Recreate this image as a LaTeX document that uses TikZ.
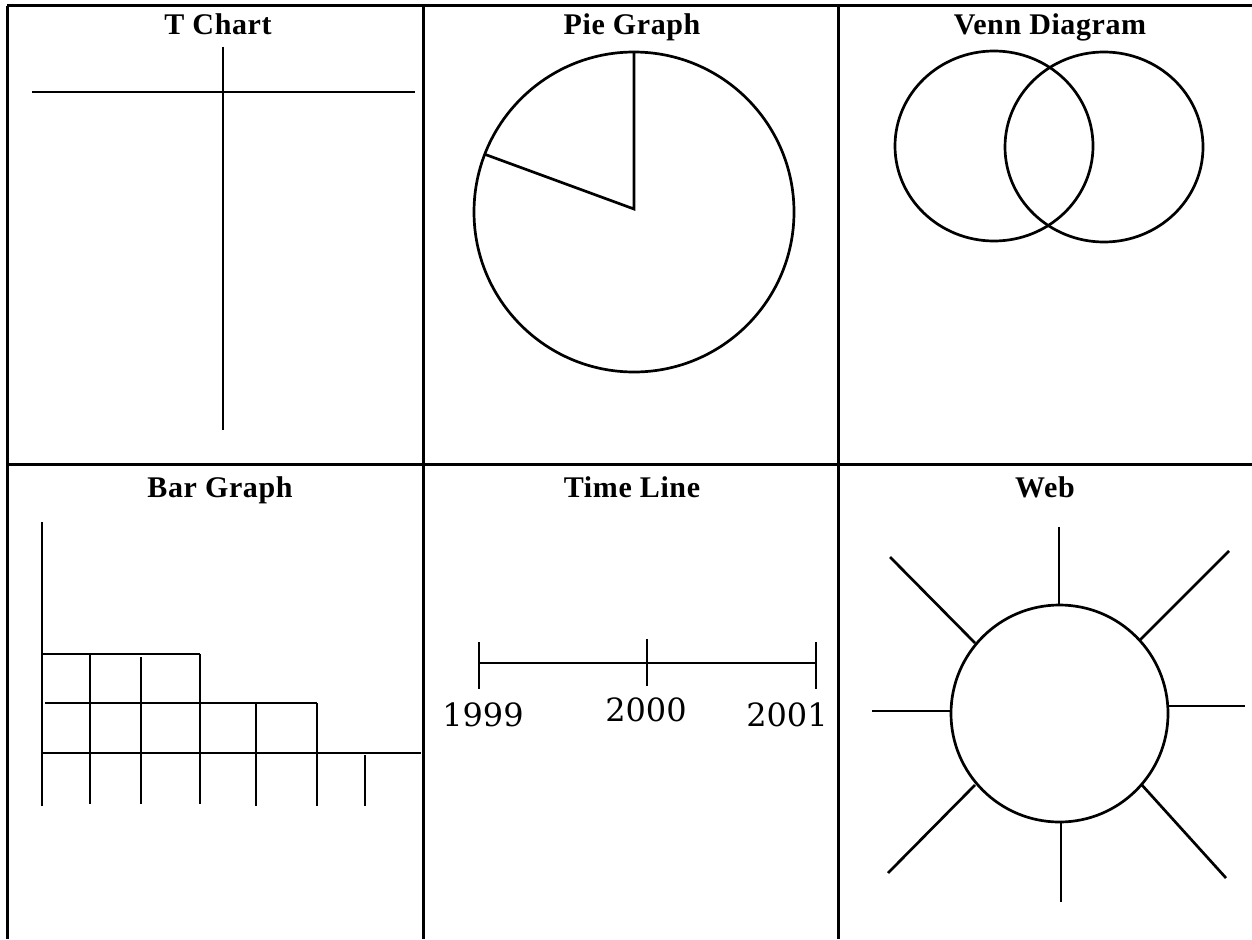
\documentclass[tikz,border=0pt]{standalone}
\usepackage{fontspec}
\setmainfont{Liberation Serif}
\newfontfamily\titlefont[LetterSpace=2]{Liberation Serif}
\newfontfamily\yearfont{DejaVu Serif}
\begin{document}
\begin{tikzpicture}[x=1pt,y=-1pt,
  tableline/.style={line width=3pt},
  stroke/.style={line width=2.7pt},
  title/.style={font=\fontsize{30}{32}\titlefont\bfseries, inner sep=0pt, anchor=base},
  year/.style={font=\fontsize{32}{34}\yearfont, inner sep=0pt, anchor=base}]
\useasboundingbox (0,0) rectangle (1252,939);
\fill[white] (0,0) rectangle (1252,939);
% table grid
\draw[tableline] (7,6) -- (1252,6);
\draw[tableline] (7,464) -- (1252,464);
\draw[tableline] (7,6) -- (7,939);
\draw[tableline] (423,6) -- (423,939);
\draw[tableline] (838,6) -- (838,939);
% titles
\node[title] (t1) at (218,35) {T Chart};
\node[title] (t2) at (632,35) {Pie Graph};
\node[title] (t3) at (1050,35) {Venn Diagram};
\node[title] (t4) at (220,497) {Bar Graph};
\node[title] (t5) at (632,497) {Time Line};
\node[title] (t6) at (1045,497) {Web};
% T chart
\draw[stroke] (223,47) -- (223,430);
\draw[stroke] (32,92) -- (415,92);
% Pie graph
\coordinate (pc) at (634,209);
\draw[stroke] (634,212) circle [radius=160];
\draw[stroke] (634,52) -- (pc) -- (484,154);
% Venn
\draw[stroke] (994,146) ellipse [x radius=99, y radius=95];
\draw[stroke] (1104,147) ellipse [x radius=99, y radius=95];
% Bar graph
\draw[stroke] (42,522) -- (42,806);
\draw[stroke] (42,654) -- (200,654);
\draw[stroke] (45,703) -- (317,703);
\draw[stroke] (42,753) -- (421,753);
\draw[stroke] (90,654) -- (90,804);
\draw[stroke] (141,657) -- (141,804);
\draw[stroke] (200,654) -- (200,804);
\draw[stroke] (256,703) -- (256,806);
\draw[stroke] (317,703) -- (317,806);
\draw[stroke] (365,755) -- (365,806);
% Time line
\coordinate (a) at (479,663);
\coordinate (b) at (647,663);
\coordinate (c) at (816,663);
\draw[stroke] (a) -- (c);
\draw[stroke] (479,642) -- (479,689);
\draw[stroke] (647,639) -- (647,686);
\draw[stroke] (816,642) -- (816,689);
\node[year] (y1) at (483,726) {1999};
\node[year] (y2) at (646,721) {2000};
\node[year] (y3) at (787,726) {2001};
% Web
\draw[stroke] (1059.5,713.5) circle [radius=108.5];
\draw[stroke] (1059,527) -- (1059,605);
\draw[stroke] (1061,822) -- (1061,902);
\draw[stroke] (872,711) -- (951,711);
\draw[stroke] (1168,706) -- (1245,706);
\draw[stroke] (890,557) -- (975,643);
\draw[stroke] (1229,551) -- (1140,640);
\draw[stroke] (975,785) -- (888,873);
\draw[stroke] (1141,784) -- (1226,878);
\end{tikzpicture}
\end{document}
